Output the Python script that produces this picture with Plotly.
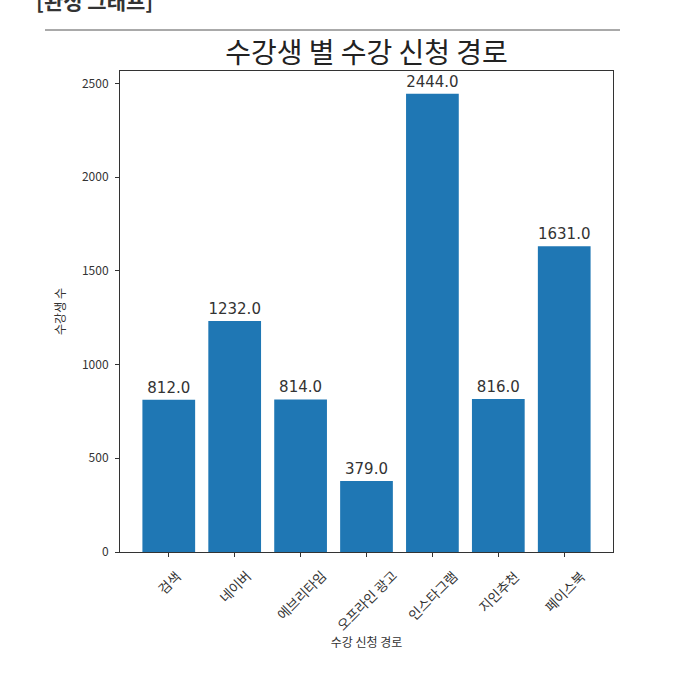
import plotly.graph_objects as go

categories = ["검색", "네이버", "에브리타임", "오프라인 광고", "인스타그램", "지인추천", "페이스북"]
values = [812, 1232, 814, 379, 2444, 816, 1631]
y_ticks = [0, 500, 1000, 1500, 2000, 2500]

FONT = "Noto Sans CJK KR"
NUM_FONT = "DejaVu Sans"
x_pos = list(range(len(categories)))

# plot area in pixels
L, T, R, B = 120, 71, 76, 140
W, H = 689, 692
PW, PH = W - L - R, H - T - B


def px_x(px):
    return (px - L) / PW


def px_y(py):
    return (H - B - py) / PH


fig = go.Figure()
fig.add_trace(go.Bar(
    x=x_pos, y=values, width=0.8,
    marker=dict(color="#1f77b4", line=dict(width=0)),
    text=[f"{v:.1f}" for v in values],
    textposition="outside",
    textfont=dict(family=NUM_FONT, size=15, color="#333333"),
    cliponaxis=False,
))

for i, c in enumerate(categories):
    fig.add_annotation(
        x=i, y=0, xref="x", yref="y", yshift=-11,
        text=c, textangle=-45, showarrow=False,
        xanchor="center", yanchor="top",
        font=dict(family=FONT, size=13.5, color="#333333"),
    )

fig.add_annotation(
    x=px_x(34), y=px_y(17), xref="paper", yref="paper",
    text="<b>[완성 그래프]</b>", showarrow=False,
    xanchor="left", yanchor="bottom",
    font=dict(family=FONT, size=21, color="#333333"),
)

fig.add_shape(type="line", xref="paper", yref="paper",
              x0=px_x(45), x1=px_x(620), y0=px_y(30), y1=px_y(30),
              line=dict(color="#555555", width=1))

fig.update_layout(
    width=W, height=H,
    margin=dict(l=L, r=R, t=T, b=B, autoexpand=False),
    paper_bgcolor="white", plot_bgcolor="white",
    showlegend=False,
    title=dict(text="수강생 별 수강 신청 경로", x=0.5, xref="paper", xanchor="center",
               y=1 - 53 / H, yanchor="middle",
               font=dict(family=FONT, size=28, color="#222222")),
    xaxis=dict(range=[-0.74, 6.74], tickvals=x_pos, ticktext=[""] * len(categories),
               ticks="outside", ticklen=4, tickcolor="#333333",
               showline=True, linecolor="#333333", linewidth=1, mirror=True,
               showgrid=False, zeroline=False,
               title=dict(text="수강 신청 경로", standoff=80,
                          font=dict(family=FONT, size=12, color="#333333"))),
    yaxis=dict(range=[0, 2566], tickvals=y_ticks,
               ticks="outside", ticklen=4, tickcolor="#333333",
               ticklabelstandoff=4,
               showline=True, linecolor="#333333", linewidth=1, mirror=True,
               showgrid=False, zeroline=False,
               tickfont=dict(family=FONT, size=12, color="#333333"),
               title=dict(text="수강생 수", standoff=13,
                          font=dict(family=FONT, size=12, color="#333333"))),
)

fig.write_html("out.html", config={"displayModeBar": False},
               post_script="document.body.style.margin='0';")
